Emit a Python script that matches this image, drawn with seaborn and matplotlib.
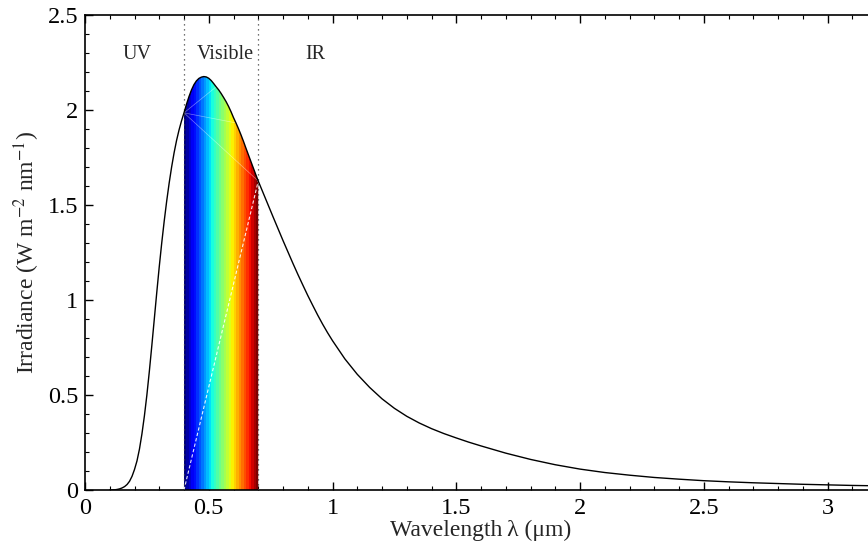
import numpy as np
import matplotlib
matplotlib.use("Agg")
import matplotlib.pyplot as plt
from matplotlib.ticker import MultipleLocator, FormatStrFormatter
import seaborn as sns

# Solar spectral irradiance (W m^-2 nm^-1) versus wavelength (um)
wavelength = [0.10, 0.12, 0.13, 0.14, 0.15, 0.16, 0.17, 0.18, 0.19, 0.20,
              0.21, 0.22, 0.23, 0.24, 0.25, 0.26, 0.27, 0.28, 0.29, 0.30,
              0.31, 0.32, 0.33, 0.34, 0.35, 0.36, 0.37, 0.38, 0.39, 0.40,
              0.41, 0.42, 0.43, 0.44, 0.45, 0.46, 0.47, 0.48, 0.49, 0.50,
              0.51, 0.52, 0.53, 0.54, 0.55, 0.56, 0.57, 0.58, 0.59, 0.60,
              0.61, 0.62, 0.63, 0.64, 0.65, 0.66, 0.67, 0.68, 0.69, 0.70,
              0.72, 0.74, 0.76, 0.78, 0.80, 0.82, 0.84, 0.86, 0.88, 0.90,
              0.92, 0.94, 0.96, 0.98, 1.00, 1.05, 1.10, 1.15, 1.20, 1.25,
              1.30, 1.35, 1.40, 1.45, 1.50, 1.55, 1.60, 1.70, 1.80, 1.90,
              2.00, 2.10, 2.20, 2.30, 2.40, 2.50, 2.60, 2.70, 2.80, 2.90,
              3.00, 3.10, 3.20]
irradiance = [0.000, 0.001, 0.003, 0.006, 0.011, 0.018, 0.029, 0.046, 0.072, 0.108,
              0.153, 0.215, 0.295, 0.390, 0.500, 0.625, 0.760, 0.900, 1.040, 1.175,
              1.300, 1.415, 1.520, 1.615, 1.700, 1.775, 1.840, 1.895, 1.943, 1.985,
              2.030, 2.070, 2.105, 2.133, 2.153, 2.166, 2.173, 2.176, 2.174, 2.167,
              2.155, 2.139, 2.122, 2.106, 2.087, 2.066, 2.044, 2.019, 1.991, 1.960,
              1.932, 1.902, 1.870, 1.836, 1.800, 1.765, 1.730, 1.695, 1.660, 1.626,
              1.563, 1.500, 1.437, 1.375, 1.313, 1.253, 1.193, 1.135, 1.079, 1.024,
              0.972, 0.921, 0.873, 0.828, 0.786, 0.690, 0.609, 0.540, 0.480, 0.430,
              0.388, 0.353, 0.323, 0.297, 0.274, 0.252, 0.232, 0.194, 0.161, 0.133,
              0.110, 0.092, 0.078, 0.066, 0.057, 0.049, 0.043, 0.038, 0.034, 0.030,
              0.027, 0.024, 0.022]

visible_range = [0.4, 0.7]
band_labels = ["UV", "Visible", "IR"]
band_label_x = [0.21, 0.566, 0.93]
band_label_y = 2.29

x_ticks = [0, 0.5, 1, 1.5, 2, 2.5, 3]
y_ticks = [0, 0.5, 1, 1.5, 2, 2.5]

sns.set_theme(style="ticks")
plt.rcParams["font.family"] = ["Liberation Serif", "DejaVu Serif"]
plt.rcParams["mathtext.fontset"] = "stix"

fig = plt.figure(figsize=(8.68, 5.53), dpi=100)
ax = fig.add_axes([85 / 868, 63 / 553, 792 / 868, 475 / 553])

wl = np.asarray(wavelength)
irr = np.asarray(irradiance)

# spectral colour band under the curve across the visible range
vmask = (wl >= visible_range[0]) & (wl <= visible_range[1])
clip = ax.fill_between(wl[vmask], 0, irr[vmask], facecolor="none", edgecolor="none")
n_steps = 30
grad = np.arange(n_steps)[None, :]
img = ax.imshow(grad, cmap=plt.get_cmap("jet", n_steps), aspect="auto",
                interpolation="nearest",
                extent=[visible_range[0], visible_range[1], 0, 2.5],
                origin="lower", zorder=1)
img.set_clip_path(clip.get_paths()[0], transform=ax.transData)

# faint fill seams inside the band
i0 = int(np.where(wl == visible_range[0])[0][0])
i1 = int(np.where(wl == visible_range[1])[0][0])
for j in [i0 + 13, i0 + 21, i1]:
    ax.plot([wl[i0], wl[j]], [irr[i0], irr[j]], color="white", lw=0.5,
            alpha=0.45, zorder=2)
ax.plot([wl[i0], wl[i1]], [0, irr[i1]], color="white", lw=0.8,
        ls=(0, (3, 2)), alpha=0.9, zorder=2)

# boundaries of the visible range
for xv in visible_range:
    ax.axvline(xv, color="#444444", lw=0.9, ls=(0, (1, 3)), zorder=3)

sns.lineplot(x=wl, y=irr, ax=ax, color="black", lw=1.0, zorder=4)

for lab, xl in zip(band_labels, band_label_x):
    ax.text(xl, band_label_y, lab, ha="center", va="center", fontsize=14.5)

ax.set_xlim(0, 3.2)
ax.set_ylim(0, 2.5)
ax.set_xticks(x_ticks)
ax.set_yticks(y_ticks)
ax.xaxis.set_minor_locator(MultipleLocator(0.1))
ax.yaxis.set_minor_locator(MultipleLocator(0.1))
ax.xaxis.set_major_formatter(FormatStrFormatter("%g"))
ax.yaxis.set_major_formatter(FormatStrFormatter("%g"))
ax.tick_params(which="both", direction="in", top=True, right=True,
               colors="black", labelsize=17.5)
ax.tick_params(which="major", length=6, width=1.0)
ax.tick_params(which="minor", length=3, width=0.8)
ax.tick_params(axis="x", pad=6)
ax.tick_params(axis="y", pad=5)
for s in ax.spines.values():
    s.set_color("black")
    s.set_linewidth(1.2)

ax.set_xlabel("Wavelength\u2009\u03bb (\u03bcm)", fontsize=17, labelpad=0)
ax.set_ylabel("Irradiance (W m$^{-2}$ nm$^{-1}$)", fontsize=17, labelpad=4)

fig.savefig("out.png", dpi=100)
